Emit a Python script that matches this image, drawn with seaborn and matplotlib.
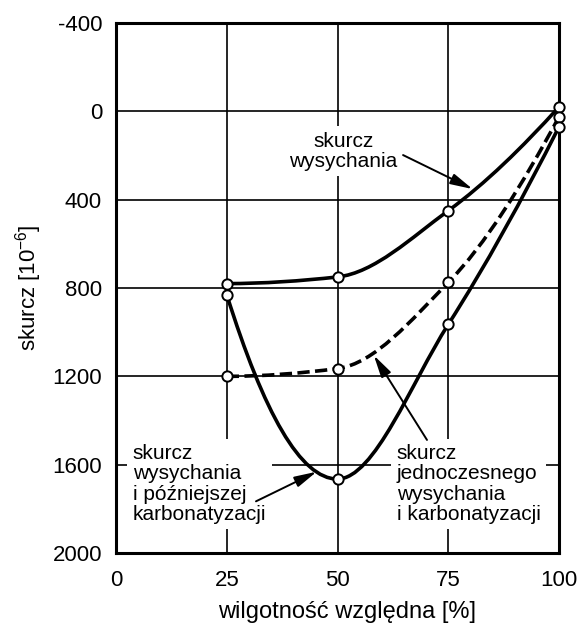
import numpy as np
import pandas as pd
import matplotlib
matplotlib.use("Agg")
import matplotlib.pyplot as plt
from matplotlib.path import Path
from matplotlib.patches import PathPatch
import seaborn as sns

# Relative humidity [%]
humidity = [25, 50, 75, 100]
# Shrinkage [10^-6] for the three storage regimes
drying = [780, 750, 450, -20]
simultaneous = [1200, 1165, 775, 25]
drying_then_carb = [830, 1665, 965, 70]

x_ticks = [0, 25, 50, 75, 100]
y_ticks = [-400, 0, 400, 800, 1200, 1600, 2000]

label_drying = "skurcz\nwysychania"
label_then = "skurcz\nwysychania\ni późniejszej\nkarbonatyzacji"
label_simult = "skurcz\njednoczesnego\nwysychania\ni karbonatyzacji"


def pchip_slopes(x, y):
    """Fritsch-Carlson monotone slopes at each node."""
    x = np.asarray(x, float)
    y = np.asarray(y, float)
    h = np.diff(x)
    d = np.diff(y) / h
    m = np.zeros_like(y)
    for i in range(1, len(y) - 1):
        if d[i - 1] * d[i] > 0:
            w1 = 2 * h[i] + h[i - 1]
            w2 = h[i] + 2 * h[i - 1]
            m[i] = (w1 + w2) / (w1 / d[i - 1] + w2 / d[i])
    for i, j, k in ((0, 0, 1), (-1, -1, -2)):
        hj, hk = h[j], h[k]
        e = ((2 * hj + hk) * d[j] - hj * d[k]) / (hj + hk)
        if np.sign(e) != np.sign(d[j]):
            e = 0.0
        elif np.sign(d[j]) != np.sign(d[k]) and abs(e) > abs(3 * d[j]):
            e = 3 * d[j]
        m[i] = e
    return m


def smooth_path(x, y):
    """Cubic Bezier path through the nodes (monotone Hermite form)."""
    m = pchip_slopes(x, y)
    verts = [(x[0], y[0])]
    codes = [Path.MOVETO]
    for i in range(len(x) - 1):
        h = x[i + 1] - x[i]
        verts += [(x[i] + h / 3, y[i] + m[i] * h / 3),
                  (x[i + 1] - h / 3, y[i + 1] - m[i + 1] * h / 3),
                  (x[i + 1], y[i + 1])]
        codes += [Path.CURVE4] * 3
    return Path(verts, codes)


sns.set_theme(style="white")
plt.rcParams["font.family"] = ["Liberation Sans", "DejaVu Sans"]
plt.rcParams["mathtext.fontset"] = "custom"
plt.rcParams["mathtext.rm"] = "Liberation Sans"
plt.rcParams["mathtext.it"] = "Liberation Sans"
plt.rcParams["axes.unicode_minus"] = False

fig = plt.figure(figsize=(5.84, 6.24), dpi=100)
ax = fig.add_axes([116 / 584, 1 - 553 / 624, 443 / 584, 530 / 624])

# curves
for series, ls in ((drying, "-"), (simultaneous, (0, (3.4, 1.5))), (drying_then_carb, "-")):
    ax.add_patch(PathPatch(smooth_path(humidity, series), fill=False,
                           edgecolor="black", lw=2.6, linestyle=ls,
                           capstyle="butt", zorder=4))

# measured points
points = pd.DataFrame({
    "rh": humidity * 3,
    "shrink": drying + simultaneous + drying_then_carb,
})
sns.scatterplot(data=points, x="rh", y="shrink", ax=ax, s=55, color="white",
                edgecolor="black", linewidth=1.4, zorder=6, legend=False,
                clip_on=False)

ax.set_xlim(0, 100)
ax.set_ylim(2000, -400)
ax.set_xticks(x_ticks)
ax.set_yticks(y_ticks)
ax.tick_params(axis="both", length=0, labelsize=16, colors="black")
ax.tick_params(axis="x", pad=12)
ax.tick_params(axis="y", pad=10)
ax.grid(True, color="black", lw=1.2)
ax.set_axisbelow(True)
for sp in ax.spines.values():
    sp.set_color("black")
    sp.set_linewidth(2.2)

ax.set_xlabel("wilgotność względna [%]", fontsize=17, color="black", va="top")
ax.xaxis.set_label_coords(0.521, -0.090)
ax.set_ylabel("skurcz [10$^{-6}$]", fontsize=16, color="black")
ax.yaxis.set_label_coords(-0.163, 0.5)

box = dict(facecolor="white", edgecolor="none", pad=4)
txt_kw = dict(fontsize=15, color="black", va="top", linespacing=1.08, zorder=3, bbox=box)
ax.text(51.3, 92, label_drying, ha="center", multialignment="center", **txt_kw)
ax.text(3.8, 1507, label_then, ha="left", **txt_kw)
ax.text(63.4, 1507, label_simult, ha="left", **txt_kw)

arrow = dict(arrowstyle="-|>,head_length=0.9,head_width=0.22", color="black",
             lw=1.4, shrinkA=0, shrinkB=0, mutation_scale=15)
ax.annotate("", xy=(80.5, 352), xytext=(64.8, 198), arrowprops=arrow, zorder=5)
ax.annotate("", xy=(45.3, 1632), xytext=(31.6, 1766), arrowprops=arrow, zorder=5)
ax.annotate("", xy=(58.2, 1105), xytext=(70.2, 1488), arrowprops=arrow, zorder=5)

fig.savefig("out.png", dpi=100, facecolor="white")
